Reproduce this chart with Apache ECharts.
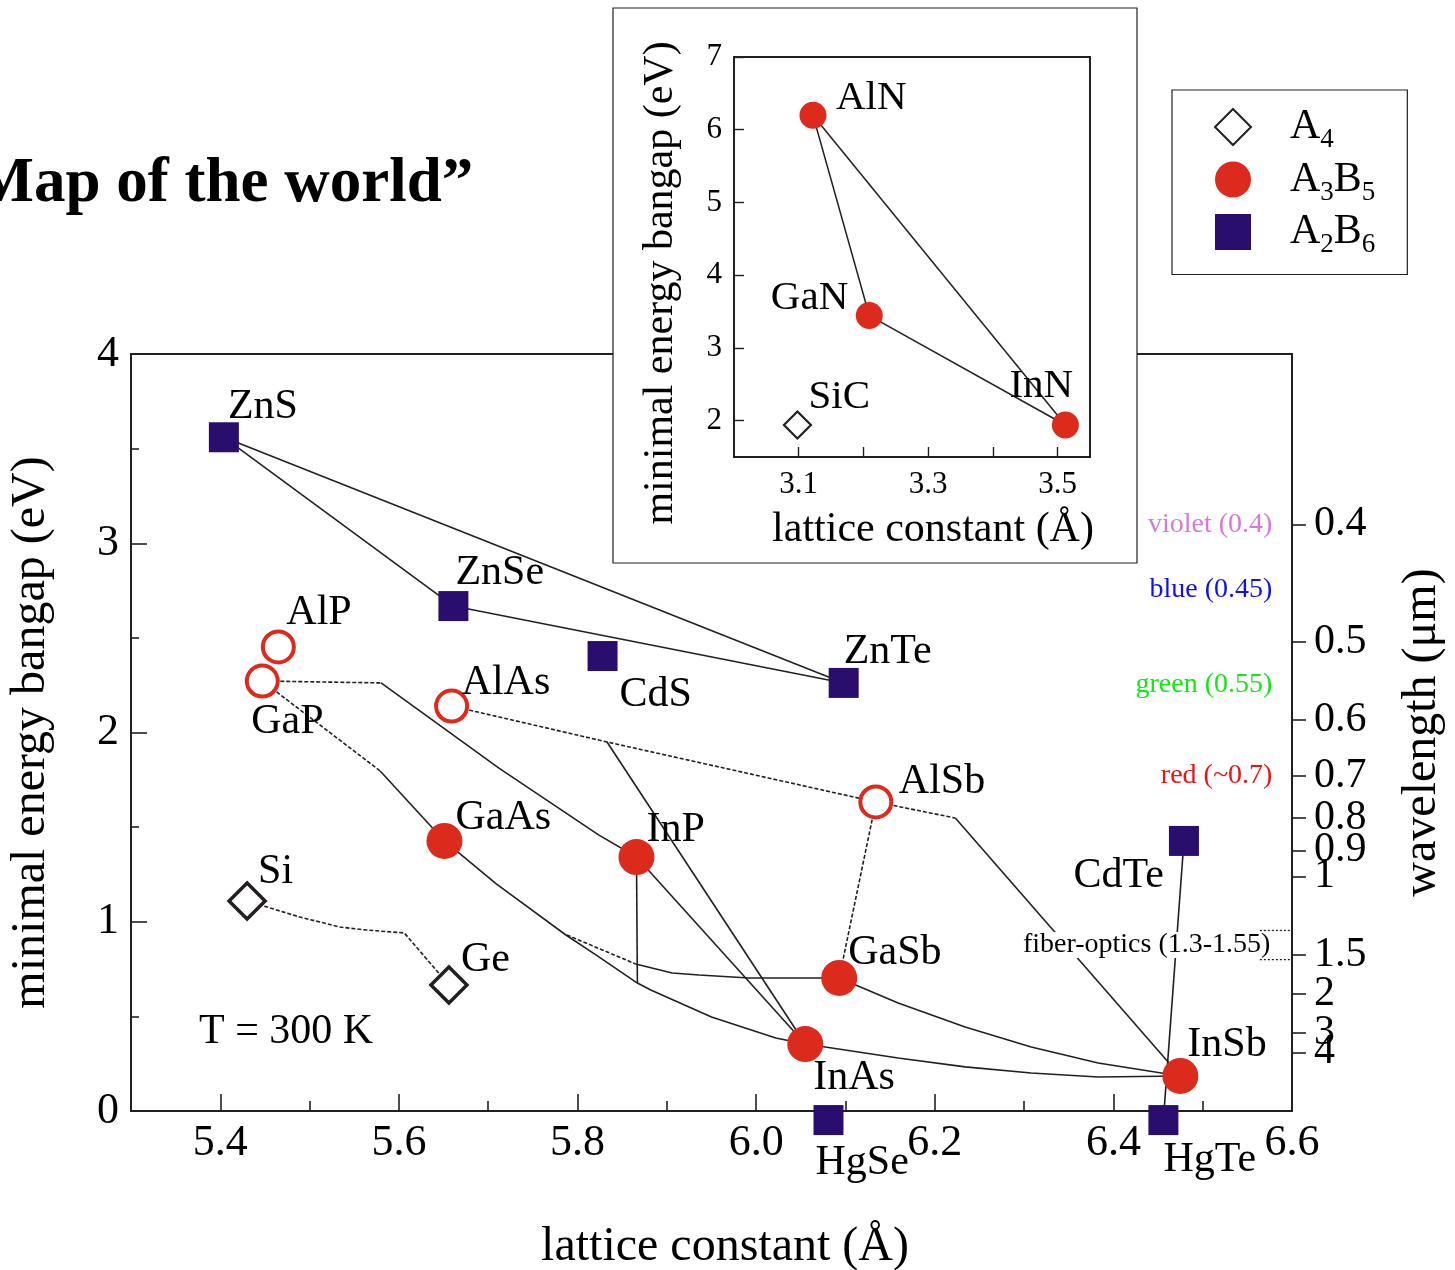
<!DOCTYPE html>
<html><head><meta charset="utf-8">
<script src="https://cdn.jsdelivr.net/npm/echarts@6/dist/echarts.min.js"></script>
<style>html,body{margin:0;padding:0;background:#fff}#c{width:1455px;height:1270px}</style>
</head><body><div id="c"></div>
<script>
const FONT = '"Liberation Serif","Times New Roman",serif';
const INK = '#231f20', RED = '#dc2a1c', NAVY = '#2a0e6e';
const HC = 1.24; // eV * um

// ---------- data ----------
const a4Names = ['Si', 'Ge'];
const a4Lattice = [5.430, 5.656];
const a4Gap = [1.11, 0.666];

const directNames = ['GaAs', 'InP', 'GaSb', 'InAs', 'InSb'];
const directLattice = [5.651, 5.866, 6.093, 6.055, 6.475];
const directGap = [1.427, 1.342, 0.703, 0.354, 0.185];

const indirectNames = ['AlP', 'GaP', 'AlAs', 'AlSb'];
const indirectLattice = [5.465, 5.447, 5.659, 6.134];
const indirectGap = [2.452, 2.272, 2.14, 1.633];

const a2b6Names = ['ZnS', 'ZnSe', 'CdS', 'ZnTe', 'CdTe', 'HgSe', 'HgTe'];
const a2b6Lattice = [5.404, 5.661, 5.828, 6.098, 6.479, 6.081, 6.456];
const a2b6Gap = [3.56, 2.668, 2.404, 2.262, 1.427, -0.048, -0.048];

const nitrideNames = ['AlN', 'GaN', 'InN'];
const nitrideLattice = [3.122, 3.209, 3.512];
const nitrideGap = [6.2, 3.445, 1.94];
const sicNames = ['SiC'];
const sicLattice = [3.098];
const sicGap = [1.94];

// connecting curves (waypoints)
const cGaPInP = ['GaP', [5.580, 2.262]];
const cGaPInP2 = [[5.580, 2.262], [5.712, 1.812], [5.824, 1.458], 'InP'];
const cGaPGaAs = ['GaP', [5.579, 1.797]];
const cGaPGaAs2 = [[5.579, 1.797], 'GaAs'];
const cAlAsAlSb = ['AlAs', [5.833, 1.950], 'AlSb'];
const cAlAsInAs = [[5.833, 1.950], 'InAs'];
const cAlSbInSb = ['AlSb', [6.223, 1.548]];
const cAlSbInSb2 = [[6.223, 1.548], 'InSb'];
const cAlSbGaSb = ['AlSb', 'GaSb'];
const cGaAsInAs = ['GaAs', [5.709, 1.200], [5.787, 0.930], [5.821, 0.824], [5.867, 0.676], [5.882, 0.639], [5.950, 0.497], [6.022, 0.386], 'InAs'];
const cInPDown = ['InP', [5.867, 0.676]];
const cGaAsGaSb = [[5.788, 0.930], [5.865, 0.777]];
const cGaAsGaSb2 = [[5.865, 0.777], [5.906, 0.729], [5.936, 0.719], [5.992, 0.703], 'GaSb'];
const cGaSbInSb = ['GaSb', [6.159, 0.571], [6.234, 0.444], [6.308, 0.338], [6.383, 0.254], 'InSb'];
const cInAsInSb = ['InAs', [6.159, 0.280], [6.234, 0.233], [6.308, 0.201], [6.383, 0.180], 'InSb'];
const cInPInAs = ['InP', 'InAs'];
const cZnSZnSe = ['ZnS', 'ZnSe'];
const cZnSZnTe = ['ZnS', 'ZnTe'];
const cZnSeZnTe = ['ZnSe', 'ZnTe'];
const cCdTeHgTe = ['CdTe', 'HgTe'];
const cSiGe = ['Si', [5.489, 1.025], [5.534, 0.972], [5.564, 0.956], [5.606, 0.941], 'Ge'];
const cAlNGaN = ['AlN', 'GaN'];
const cGaNInN = ['GaN', 'InN'];
const cAlNInN = ['AlN', 'InN'];

// axes
const xMajorTicks = [5.4, 5.6, 5.8, 6.0, 6.2, 6.4];
const xMinorTicks = [5.5, 5.7, 5.9, 6.1, 6.3, 6.5];
const xTickLabels = [5.4, 5.6, 5.8, 6.0, 6.2, 6.4, 6.6];
const yMajorTicks = [1, 2, 3];
const yMinorTicks = [0.5, 1.5, 2.5, 3.5];
const yTickLabels = [0, 1, 2, 3, 4];
const wavelengthTicksA = [0.4, 0.5, 0.6, 0.7, 0.8, 0.9, 1, 1.5];
const wavelengthTicksB = [2, 4];
const wavelengthTicksC = [3];
const insetXTicks = [3.1, 3.2, 3.3, 3.4, 3.5];
const insetXLabels = [3.1, 3.3, 3.5];
const insetYTicks = [2, 3, 4, 5, 6, 7];

// colour bands
const bandNames = ['violet (0.4)', 'blue (0.45)', 'green (0.55)', 'red (~0.7)'];
const bandWavelength = [0.4, 0.45, 0.55, 0.7];
const bandColors = ['#d77ad6', '#1010f2', '#10ea10', '#f21010'];
const fiberName = 'fiber-optics (1.3-1.55)';
const fiberWavelength = [1.3, 1.55];

// ---------- layout / style ----------
const bandLabelX = 6.578;
const labelLayout = {
  ZnS: [4, -30], ZnSe: [2, -33], CdS: [17, 39], ZnTe: [0, -31], CdTe: [-20, 35, 'right'],
  HgSe: [-13, 43], HgTe: [0, 40], AlP: [8, -34], GaP: [-11, 41], AlAs: [10, -23],
  AlSb: [23, -20], GaAs: [11, -23], InP: [10, -27], GaSb: [9, -25], InAs: [8, 34],
  InSb: [7, -31], Si: [11, -29], Ge: [12, -25],
  AlN: [23, -17], GaN: [-21, -17, 'right'], InN: [-56, -39], SiC: [11, -28]
};

const P = {};
function reg(names, xs, ys) { names.forEach((n, i) => P[n] = [xs[i], ys[i]]); }
reg(a4Names, a4Lattice, a4Gap); reg(directNames, directLattice, directGap);
reg(indirectNames, indirectLattice, indirectGap); reg(a2b6Names, a2b6Lattice, a2b6Gap);
reg(nitrideNames, nitrideLattice, nitrideGap); reg(sicNames, sicLattice, sicGap);

function lab(name, size) {
  const l = labelLayout[name];
  return { show: true, formatter: name, position: 'inside', align: l[2] || 'left', verticalAlign: 'middle',
    offset: [l[0], l[1]], fontSize: size, fontFamily: FONT, color: '#000', opacity: 1 };
}
function pts(names, xs, ys, size) {
  return names.map((n, i) => ({ name: n, value: [xs[i], ys[i]], label: lab(n, size) }));
}
function curve(path, dotted, xi, yi) {
  return { type: 'line', data: path.map(p => typeof p === 'string' ? P[p] : p), xAxisIndex: xi || 0, yAxisIndex: yi || 0,
    symbol: 'none', silent: true, clip: false, z: 2, animation: false,
    lineStyle: { color: INK, width: 1.6, type: dotted ? [4, 2] : 'solid', opacity: 1 } };
}

const solid = [cGaPInP2, cGaPGaAs2, cAlAsInAs, cAlSbInSb2, cGaAsInAs, cInPDown, cGaAsGaSb2, cGaSbInSb, cInAsInSb, cInPInAs,
  cZnSZnSe, cZnSZnTe, cZnSeZnTe, cCdTeHgTe];
const dotted = [cGaPInP, cGaPGaAs, cAlAsAlSb, cAlSbInSb, cAlSbGaSb, cGaAsGaSb, cSiGe];
const insetLines = [cAlNGaN, cGaNInN, cAlNInN];

const series = [];
solid.forEach(c => series.push(curve(c, false)));
dotted.forEach(c => series.push(curve(c, true)));

series.push({ name: 'A4', type: 'scatter', symbol: 'diamond', symbolSize: 36, clip: false, z: 4,
  itemStyle: { color: '#fff', borderColor: INK, borderWidth: 3.5, opacity: 1 }, data: pts(a4Names, a4Lattice, a4Gap, 42) });
series.push({ name: 'A3B5', type: 'scatter', symbol: 'circle', symbolSize: 36, clip: false, z: 4,
  itemStyle: { color: RED, opacity: 1 }, data: pts(directNames, directLattice, directGap, 42) });
series.push({ name: 'A3B5 indirect', type: 'scatter', symbol: 'circle', symbolSize: 31, clip: false, z: 4,
  itemStyle: { color: '#fff', borderColor: RED, borderWidth: 4, opacity: 1 }, data: pts(indirectNames, indirectLattice, indirectGap, 42) });
series.push({ name: 'A2B6', type: 'scatter', symbol: 'rect', symbolSize: 30, clip: false, z: 4,
  itemStyle: { color: NAVY, opacity: 1 }, data: pts(a2b6Names, a2b6Lattice, a2b6Gap, 42) });

// colour band labels
series.push({ name: 'bands', type: 'scatter', symbolSize: 0, silent: true, z: 10, clip: false, itemStyle: { opacity: 1 },
  data: bandNames.map((n, i) => ({ name: n, value: [bandLabelX, HC / bandWavelength[i]],
    label: { show: true, formatter: n, position: 'inside', align: 'right', verticalAlign: 'middle',
      fontSize: 28, fontFamily: FONT, color: bandColors[i], opacity: 1 } })) });
series.push({ name: 'fiber', type: 'scatter', symbolSize: 0, silent: true, z: 10, clip: false, itemStyle: { opacity: 1 },
  data: [{ name: fiberName, value: [bandLabelX, (HC / fiberWavelength[0] + HC / fiberWavelength[1]) / 2],
    label: { show: true, formatter: fiberName, position: 'inside', align: 'right', verticalAlign: 'middle',
      fontSize: 28, fontFamily: FONT, color: '#000', backgroundColor: '#fff', padding: [0, 2], lineHeight: 26, opacity: 1 } }] });
fiberWavelength.forEach(w => {
  const s = curve([[6.564, HC / w], [6.6, HC / w]], true);
  s.lineStyle.type = [2, 2]; s.lineStyle.width = 1.3; s.z = 12;
  series.push(s);
});

// inset
insetLines.forEach(c => { const s = curve(c, false, 2, 3); s.z = 20; s.lineStyle.width = 1.5; series.push(s); });
series.push({ name: 'A3B5', type: 'scatter', xAxisIndex: 2, yAxisIndex: 3, symbol: 'circle', symbolSize: 27, z: 21,
  itemStyle: { color: RED, opacity: 1 }, data: pts(nitrideNames, nitrideLattice, nitrideGap, 41) });
series.push({ name: 'A4', type: 'scatter', xAxisIndex: 2, yAxisIndex: 3, symbol: 'diamond', symbolSize: 27, z: 21,
  itemStyle: { color: '#fff', borderColor: INK, borderWidth: 2.2, opacity: 1 }, data: pts(sicNames, sicLattice, sicGap, 41) });

const hiddenTickAxis = (vals, len, pos) => ({
  type: 'value', position: pos, axisLine: { show: false }, axisLabel: { show: false }, splitLine: { show: false },
  axisTick: { show: true, inside: true, length: len, customValues: vals, lineStyle: { color: INK, width: 1.6 } }
});
const allWavelengths = wavelengthTicksA.concat(wavelengthTicksB, wavelengthTicksC);
const wlFormatter = v => { let b = allWavelengths[0];
  allWavelengths.forEach(w => { if (Math.abs(HC / w - v) < Math.abs(HC / b - v)) b = w; }); return String(b); };
const wlAxis = (vals, withName) => ({
  type: 'value', gridIndex: 0, min: 0, max: 4, position: 'right',
  name: withName ? 'wavelength (μm)' : '', nameLocation: 'middle', nameGap: 106, nameRotate: 90,
  nameTextStyle: { fontSize: 48, fontFamily: FONT, color: '#000' },
  axisLine: { show: withName, lineStyle: { color: INK, width: 2 } },
  axisTick: { show: true, inside: false, length: 14, customValues: vals.map(w => HC / w), lineStyle: { color: INK, width: 1.6 } },
  axisLabel: { customValues: vals.map(w => HC / w), showMinLabel: true, showMaxLabel: true, hideOverlap: false,
    fontSize: 42, fontFamily: FONT, color: '#000', margin: 22, formatter: wlFormatter },
  splitLine: { show: false }
});

const chart = echarts.init(document.getElementById('c'), null, { renderer: 'canvas' });
chart.setOption({
  animation: false,
  backgroundColor: '#fff',
  textStyle: { fontFamily: FONT },
  grid: [
    { left: 131, top: 354, width: 1161, height: 757, show: true, borderColor: INK, borderWidth: 2, backgroundColor: 'transparent',
      containLabel: false, outerBoundsMode: 'none' },
    { left: 734, top: 57, width: 356, height: 400, show: true, borderColor: INK, borderWidth: 2, backgroundColor: '#fff', z: 6,
      containLabel: false, outerBoundsMode: 'none' }
  ],
  xAxis: [
    { type: 'value', gridIndex: 0, min: 5.3, max: 6.6, position: 'bottom',
      name: 'lattice constant (Å)', nameLocation: 'middle', nameGap: 112,
      nameTextStyle: { fontSize: 48, fontFamily: FONT, color: '#000', padding: [0, 0, 0, 27] },
      axisLine: { lineStyle: { color: INK, width: 2 } },
      axisTick: { show: true, inside: true, length: 17, customValues: xMajorTicks, lineStyle: { color: INK, width: 1.6 } },
      axisLabel: { customValues: xTickLabels, showMinLabel: true, showMaxLabel: true, formatter: v => v.toFixed(1), fontSize: 44, fontFamily: FONT, color: '#000', margin: 10 },
      splitLine: { show: false } },
    Object.assign(hiddenTickAxis(xMinorTicks, 10, 'bottom'), { gridIndex: 0, min: 5.3, max: 6.6 }),
    { type: 'value', gridIndex: 1, min: 3.0, max: 3.55, z: 7,
      name: 'lattice constant (Å)', nameLocation: 'middle', nameGap: 52,
      nameTextStyle: { fontSize: 42, fontFamily: FONT, color: '#000', padding: [0, 0, 0, 42] },
      axisLine: { lineStyle: { color: INK, width: 2 } },
      axisTick: { show: true, inside: true, length: 10, customValues: insetXTicks, lineStyle: { color: INK, width: 1.4 } },
      axisLabel: { customValues: insetXLabels, formatter: v => v.toFixed(1), fontSize: 31, fontFamily: FONT, color: '#000', margin: 12 },
      splitLine: { show: false } }
  ],
  yAxis: [
    { type: 'value', gridIndex: 0, min: 0, max: 4, position: 'left',
      name: 'minimal energy bangap (eV)', nameLocation: 'middle', nameGap: 76, nameRotate: 90,
      nameTextStyle: { fontSize: 48, fontFamily: FONT, color: '#000' },
      axisLine: { show: true, lineStyle: { color: INK, width: 2 } },
      axisTick: { show: true, inside: true, length: 16, customValues: yMajorTicks, lineStyle: { color: INK, width: 1.6 } },
      axisLabel: { customValues: yTickLabels, showMinLabel: true, showMaxLabel: true, fontSize: 44, fontFamily: FONT, color: '#000', margin: 12 },
      splitLine: { show: false } },
    Object.assign(hiddenTickAxis(yMinorTicks, 8, 'left'), { gridIndex: 0, min: 0, max: 4 }),
    wlAxis(wavelengthTicksA, true),
    { type: 'value', gridIndex: 1, min: 1.5, max: 7, z: 7,
      name: 'minimal energy bangap (eV)', nameLocation: 'middle', nameGap: 52, nameRotate: 90,
      nameTextStyle: { fontSize: 42, fontFamily: FONT, color: '#000', padding: [0, 52, 0, 0] },
      axisLine: { lineStyle: { color: INK, width: 2 } },
      axisTick: { show: true, inside: true, length: 10, customValues: insetYTicks, lineStyle: { color: INK, width: 1.4 } },
      axisLabel: { customValues: insetYTicks, showMinLabel: true, showMaxLabel: true, fontSize: 31, fontFamily: FONT, color: '#000', margin: 12 },
      splitLine: { show: false } },
    wlAxis(wavelengthTicksB, false),
    wlAxis(wavelengthTicksC, false)
  ],
  legend: {
    data: ['A4', 'A3B5', 'A2B6'], orient: 'vertical', left: 1172, top: 90,
    padding: [16, 32, 16, 42], itemGap: 5, itemWidth: 36, itemHeight: 36,
    borderColor: INK, borderWidth: 1.2, backgroundColor: '#fff', selectedMode: false,
    itemStyle: { opacity: 1 },
    formatter: n => ({ A4: '{b|A}{s|4}', A3B5: '{b|A}{s|3}{b|B}{s|5}', A2B6: '{b|A}{s|2}{b|B}{s|6}' }[n]),
    textStyle: { fontFamily: FONT, color: '#000', padding: [0, 0, 0, 34],
      rich: { b: { fontSize: 42, fontFamily: FONT, color: '#000' }, s: { fontSize: 27, fontFamily: FONT, color: '#000', padding: [26, 0, 0, 0] } } }
  },
  graphic: [
    { type: 'rect', z: 5, shape: { x: 613, y: 8, width: 524, height: 555 }, style: { fill: '#fff', stroke: INK, lineWidth: 1.2 } },
    { type: 'text', z: 5, x: -57, y: 185, style: { text: '\u201CMap of the world\u201D', font: 'bold 63px ' + FONT, fill: '#000', textVerticalAlign: 'middle' } },
    { type: 'text', z: 5, x: 199, y: 1032, style: { text: 'T = 300 K', font: '42px ' + FONT, fill: '#000', textVerticalAlign: 'middle' } }
  ],
  series: series
});
</script></body></html>
